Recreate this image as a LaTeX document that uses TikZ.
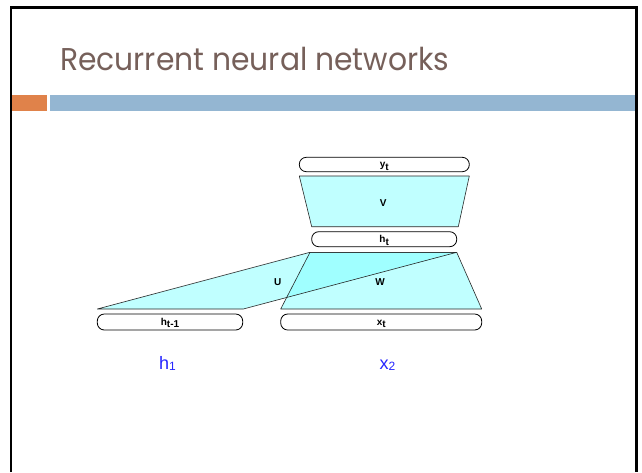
\documentclass[tikz,border=0pt]{standalone}
\usepackage{fontspec}
\setmainfont{Liberation Sans}
\newfontfamily\titlefont{Poppins}
\definecolor{titlecol}{HTML}{76605A}
\definecolor{orangebar}{HTML}{E0824A}
\definecolor{bluebar}{HTML}{94B6D2}
\definecolor{layerfill}{HTML}{C0FFFF}
\definecolor{overlapfill}{HTML}{A0FFFF}
\definecolor{labelblue}{HTML}{2626FF}
\begin{document}
\begin{tikzpicture}[x=1pt,y=-1pt,
  vecbox/.style={draw=black, line width=0.8pt, rounded corners=7pt, inner sep=0pt},
  layer/.style={draw=black!85, line width=0.6pt, line join=round},
  boxlabel/.style={font=\fontsize{10}{11}\selectfont\bfseries, inner sep=0pt},
  bluelabel/.style={font=\fontsize{18}{20}\selectfont, text=labelblue, inner sep=0pt, anchor=base west}]
\useasboundingbox (0,0) rectangle (642,472);
\fill[white] (0,0) rectangle (642,472);
% slide frame
\draw[line width=2.4pt, black] (11,472) -- (11,7.3) -- (636.6,7.3) -- (636.6,472);
% header bars
\fill[orangebar] (12.2,95) rectangle (47,111);
\fill[bluebar] (50,95) rectangle (635.4,111);
% title
\node[anchor=base west, inner sep=0pt, text=titlecol, font=\titlefont\fontsize{31.5}{34}\selectfont, xscale=0.945] (title) at (60,70) {Recurrent neural networks};
% coordinates of layers
\coordinate (v1) at (299.3,176); \coordinate (v2) at (469.3,176);
\coordinate (v3) at (458.3,226.7); \coordinate (v4) at (311.7,226.7);
\coordinate (w1) at (310,252.3); \coordinate (w2) at (456.7,252.3);
\coordinate (w3) at (481.7,309); \coordinate (w4) at (280.7,309);
\coordinate (u1) at (97.3,309); \coordinate (u2) at (243.3,309);
% fills
\fill[layerfill] (v1) -- (v2) -- (v3) -- (v4) -- cycle;
\fill[layerfill] (u1) -- (u2) -- (w2) -- (w1) -- cycle;
\fill[layerfill] (w1) -- (w2) -- (w3) -- (w4) -- cycle;
\begin{scope}
  \clip (u1) -- (u2) -- (w2) -- (w1) -- cycle;
  \fill[overlapfill] (w1) -- (w2) -- (w3) -- (w4) -- cycle;
\end{scope}
% outlines
\draw[layer] (v1) -- (v2) -- (v3) -- (v4) -- cycle;
\draw[layer] (u1) -- (u2) -- (w2) -- (w1) -- cycle;
\draw[layer] (w1) -- (w2) -- (w3) -- (w4) -- cycle;
% layer labels
\node[boxlabel] (V) at (383.3,203.3) {V};
\node[boxlabel] (U) at (277.7,281.7) {U};
\node[boxlabel] (W) at (380,282) {W};
% vector boxes
\node[vecbox, minimum width=170pt, minimum height=14.4pt] (yt) at (384.3,164.5) {};
\node[boxlabel, anchor=base] at ([yshift=-3.2pt]yt.center) {y\raisebox{-2.6pt}{t}};
\node[vecbox, minimum width=145pt, minimum height=15pt] (ht) at (384.2,239.2) {};
\node[boxlabel, anchor=base] at ([yshift=-3.2pt]ht.center) {h\raisebox{-2.6pt}{t}};
\node[vecbox, minimum width=145.4pt, minimum height=16pt] (htm) at (170,322) {};
\node[boxlabel, anchor=base] at ([yshift=-3.2pt]htm.center) {h\raisebox{-2.6pt}{t-1}};
\node[vecbox, minimum width=201pt, minimum height=16pt] (xt) at (381.2,322) {};
\node[boxlabel, anchor=base] at ([yshift=-3.2pt]xt.center) {x\raisebox{-2.6pt}{t}};
% blue labels
\node[bluelabel] (h1) at (159,369.3) {h\raisebox{-1.5pt}{\fontsize{12}{12}\selectfont 1}};
\node[bluelabel] (x2) at (379.5,369.3) {x\raisebox{-1.5pt}{\fontsize{12}{12}\selectfont 2}};
\end{tikzpicture}
\end{document}
